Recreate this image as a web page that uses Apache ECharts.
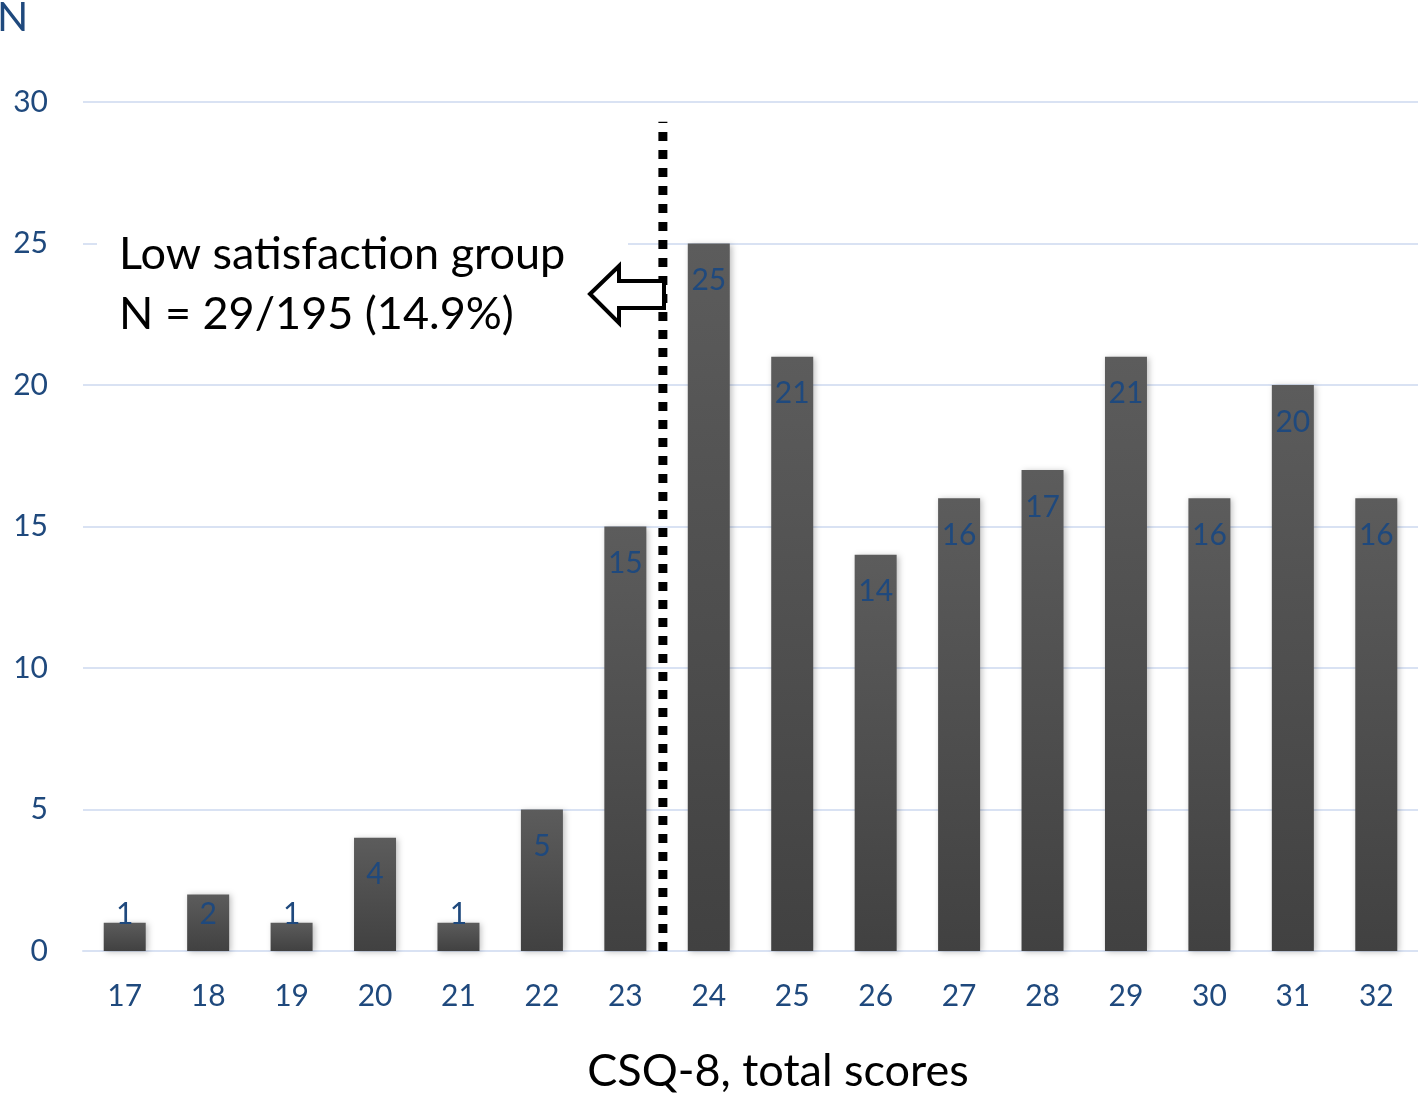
<!DOCTYPE html>
<html>
<head>
<meta charset="utf-8">
<script src="https://cdn.jsdelivr.net/npm/echarts@6/dist/echarts.min.js"></script>
<style>
html,body{margin:0;padding:0;background:#fff;}
#chart{width:1418px;height:1096px;}
</style>
</head>
<body>
<div id="chart"></div>
<script>
var categories = ['17','18','19','20','21','22','23','24','25','26','27','28','29','30','31','32'];
var counts = [1, 2, 1, 4, 1, 5, 15, 25, 21, 14, 16, 17, 21, 16, 20, 16];
var yTicks = [0, 5, 10, 15, 20, 25, 30];
var cutoffScore = 23.45;   // dotted cut-off line between 23 and 24
var cutoffTop = 29.3;
var annotationLines = ['Low satisfaction group', 'N = 29/195 (14.9%)'];
var xTitle = 'CSQ-8, total scores';

var FONT = 'Lato';
var BLUE = '#1f497d';
var GRID = '#d9e2f3';

var chart = echarts.init(document.getElementById('chart'), null, {renderer: 'canvas'});

var barData = counts.map(function (v) {
  return {
    value: v,
    label: v <= 2 ? {position: 'insideBottom', distance: 22} : {position: 'insideTop', distance: 22}
  };
});

chart.setOption({
  animation: false,
  title: {
    text: 'N', left: -8, top: -8,
    textStyle: {fontFamily: FONT, fontSize: 41, fontWeight: 'normal', color: BLUE}
  },
  grid: {left: 83, right: 0, top: 102, bottom: 145, containLabel: false},
  xAxis: [{
    type: 'category',
    data: categories,
    axisTick: {show: false},
    axisLine: {lineStyle: {color: GRID, width: 2}},
    axisLabel: {fontFamily: FONT, fontSize: 30, color: BLUE, margin: 30}
  }, {
    type: 'value', min: 16.5, max: 32.5, show: false
  }],
  yAxis: {
    type: 'value', min: yTicks[0], max: yTicks[yTicks.length - 1], interval: 5,
    axisLine: {show: false}, axisTick: {show: false},
    axisLabel: {fontFamily: FONT, fontSize: 30, color: BLUE, margin: 35},
    splitLine: {lineStyle: {color: GRID, width: 2}}
  },
  series: [{
    type: 'bar',
    data: barData,
    barWidth: 42,
    itemStyle: {
      color: new echarts.graphic.LinearGradient(0, 0, 0, 1, [
        {offset: 0, color: '#5c5c5c'},
        {offset: 1, color: '#414141'}
      ]),
      shadowColor: 'rgba(0,0,0,0.25)', shadowBlur: 6, shadowOffsetX: 2, shadowOffsetY: 1
    },
    label: {show: true, fontFamily: FONT, fontSize: 30, color: BLUE}
  }, {
    type: 'line',
    xAxisIndex: 1,
    data: [[cutoffScore, 0], [cutoffScore, cutoffTop]],
    symbol: 'none',
    lineStyle: {color: '#000', width: 9, type: [9, 9], cap: 'butt'},
    z: 5
  }],
  graphic: [{
    type: 'rect', z: 50,
    shape: {x: 97, y: 226, width: 531, height: 120},
    style: {fill: '#fff'}
  }, {
    type: 'text', z: 51, left: 119, top: 224,
    style: {
      text: annotationLines.join('\n'),
      fontFamily: FONT, fontSize: 45, lineHeight: 60, fill: '#000'
    }
  }, {
    type: 'polygon', z: 60,
    shape: {points: [[590, 294], [619, 266], [619, 281], [664, 281], [664, 308], [619, 308], [619, 323]]},
    style: {fill: '#fff', stroke: '#000', lineWidth: 4, lineJoin: 'miter'}
  }, {
    type: 'text', z: 51, x: 778, y: 1071,
    style: {
      text: xTitle, fontFamily: FONT, fontSize: 45, fill: '#000',
      textAlign: 'center', textVerticalAlign: 'middle'
    }
  }]
});
</script>
</body>
</html>
